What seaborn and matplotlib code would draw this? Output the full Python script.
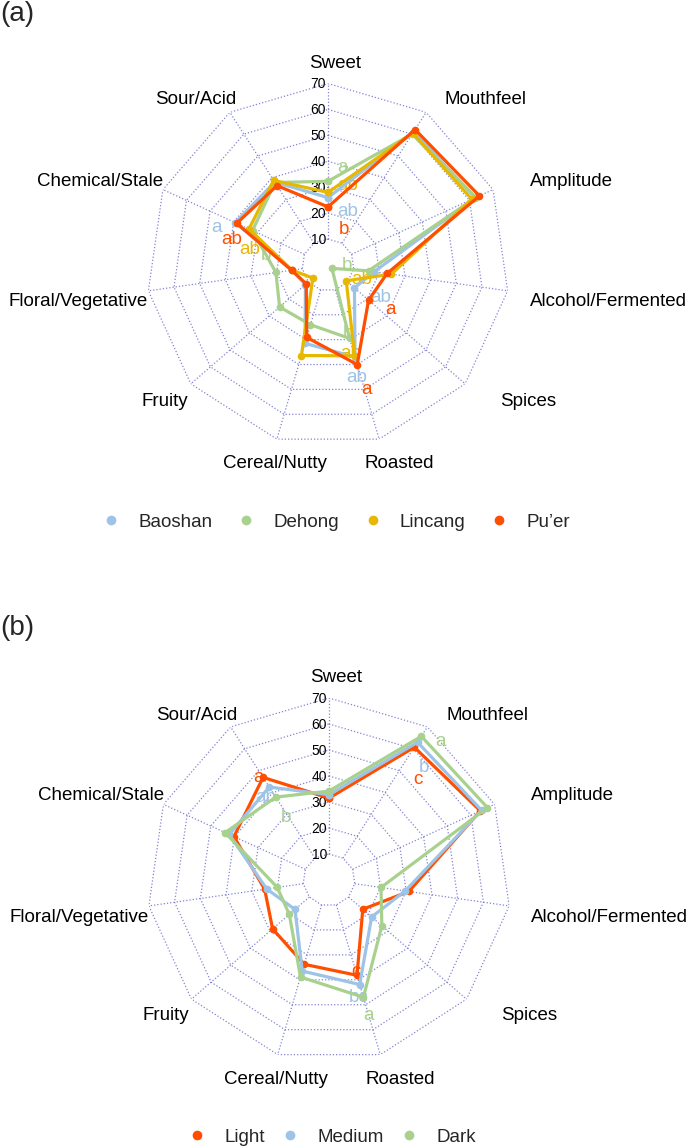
import numpy as np
import pandas as pd
import matplotlib
matplotlib.use("Agg")
import matplotlib.pyplot as plt
import seaborn as sns
from matplotlib.lines import Line2D

# ---------------- data ----------------
categories = ["Sweet", "Mouthfeel", "Amplitude", "Alcohol/Fermented", "Spices",
              "Roasted", "Cereal/Nutty", "Fruity", "Floral/Vegetative",
              "Chemical/Stale", "Sour/Acid"]
ticks = [10, 20, 30, 40, 50, 60, 70]

# panel (a): regions
region_names = ["Baoshan", "Dehong", "Lincang", "Pu\u2019er"]
baoshan = [26.0, 61.0, 62.5, 18.0, 13.5, 37.0, 31.5, 11.5, 14.0, 39.3, 38.0]
dehong = [32.3, 60.0, 62.7, 15.8, 2.0, 29.5, 24.0, 24.7, 20.3, 32.0, 37.8]
lincang = [28.0, 60.5, 61.0, 24.7, 9.3, 36.5, 36.4, 7.7, 14.0, 33.5, 38.8]
puer = [22.4, 62.1, 64.2, 23.0, 20.7, 40.0, 29.1, 11.1, 14.2, 38.7, 36.4]

# panel (b): roast levels
roast_names = ["Light", "Medium", "Dark"]
light = [31.5, 60.7, 64.0, 31.0, 17.2, 38.2, 33.8, 28.7, 25.0, 40.2, 46.9]
medium = [32.8, 63.0, 64.5, 29.6, 21.7, 41.9, 36.5, 17.3, 24.2, 42.2, 42.5]
dark = [34.2, 65.7, 67.0, 20.2, 26.9, 47.0, 38.9, 20.2, 20.1, 43.9, 37.9]

# significance letters: (category, series, letter)
letters_a = [("Sweet", "Dehong", "a"), ("Sweet", "Lincang", "ab"),
             ("Sweet", "Baoshan", "ab"), ("Sweet", "Pu\u2019er", "b"),
             ("Chemical/Stale", "Baoshan", "a"), ("Chemical/Stale", "Pu\u2019er", "ab"),
             ("Chemical/Stale", "Lincang", "ab"), ("Chemical/Stale", "Dehong", "b"),
             ("Spices", "Dehong", "b"), ("Spices", "Lincang", "ab"),
             ("Spices", "Baoshan", "ab"), ("Spices", "Pu\u2019er", "a"),
             ("Roasted", "Dehong", "b"), ("Roasted", "Lincang", "ab"),
             ("Roasted", "Baoshan", "ab"), ("Roasted", "Pu\u2019er", "a")]
letters_b = [("Mouthfeel", "Dark", "a"), ("Mouthfeel", "Medium", "b"),
             ("Mouthfeel", "Light", "c"),
             ("Sour/Acid", "Light", "a"), ("Sour/Acid", "Medium", "ab"),
             ("Sour/Acid", "Dark", "b"),
             ("Roasted", "Light", "c"), ("Roasted", "Medium", "bc"),
             ("Roasted", "Dark", "a")]

# ---------------- styles / layout ----------------
pal_a = {"Baoshan": "#9DC3E6", "Dehong": "#A9D18E", "Lincang": "#E8B800",
         "Pu\u2019er": "#FF4E00"}
pal_b = {"Light": "#FF4E00", "Medium": "#9DC3E6", "Dark": "#A9D18E"}
grid_color = "#6E6ECC"

# label offsets in pixels from the chart centre (x right, y down)
label_offsets = {"Sweet": (7, -202), "Mouthfeel": (158, -165), "Amplitude": (243, -84),
                 "Alcohol/Fermented": (280, 37), "Spices": (200, 136),
                 "Roasted": (71, 199), "Cereal/Nutty": (-53, 199),
                 "Fruity": (-163, 136), "Floral/Vegetative": (-250, 37),
                 "Chemical/Stale": (-228, -84), "Sour/Acid": (-132, -165)}
letter_offsets_a = {("Sweet", "Dehong"): (15, -97), ("Sweet", "Lincang"): (20, -80),
                    ("Sweet", "Baoshan"): (20, -54), ("Sweet", "Pu\u2019er"): (16, -35),
                    ("Chemical/Stale", "Baoshan"): (-111, -38),
                    ("Chemical/Stale", "Pu\u2019er"): (-96, -26),
                    ("Chemical/Stale", "Lincang"): (-78, -15),
                    ("Chemical/Stale", "Dehong"): (-62, -9),
                    ("Spices", "Dehong"): (19, 0), ("Spices", "Lincang"): (34, 15),
                    ("Spices", "Baoshan"): (53, 33), ("Spices", "Pu\u2019er"): (62, 44),
                    ("Roasted", "Dehong"): (20, 69), ("Roasted", "Lincang"): (23, 89),
                    ("Roasted", "Baoshan"): (29, 112), ("Roasted", "Pu\u2019er"): (38, 125)}
letter_offsets_b = {("Mouthfeel", "Dark"): (111, -138), ("Mouthfeel", "Medium"): (95, -112),
                    ("Mouthfeel", "Light"): (89, -101),
                    ("Sour/Acid", "Light"): (-71, -102), ("Sour/Acid", "Medium"): (-63, -83),
                    ("Sour/Acid", "Dark"): (-43, -62),
                    ("Roasted", "Light"): (27, 91), ("Roasted", "Medium"): (30, 117),
                    ("Roasted", "Dark"): (39, 135)}

W, H = 686, 1148
sns.set_theme(style="white")
plt.rcParams["font.family"] = ["Liberation Sans", "DejaVu Sans"]

fig = plt.figure(figsize=(W / 100, H / 100), dpi=100)


def make_df(names, series):
    n = len(categories)
    theta = np.linspace(0, 2 * np.pi, n, endpoint=False)
    rows = []
    for name, vals in zip(names, series):
        for t, v in zip(theta, vals):
            rows.append({"theta": t, "value": v, "series": name})
        rows.append({"theta": 2 * np.pi, "value": vals[0], "series": name})
    return pd.DataFrame(rows)


def radar(cx, cy, rad, names, series, pal, letters, letter_offs):
    ax = fig.add_axes([(cx - rad) / W, 1 - (cy + rad) / H, 2 * rad / W, 2 * rad / H],
                      projection="polar")
    ax.set_theta_zero_location("N")
    ax.set_theta_direction(-1)
    ax.set_ylim(0, 70)
    ax.set_axis_off()
    n = len(categories)
    theta = np.linspace(0, 2 * np.pi, n, endpoint=False)
    tclosed = np.append(theta, 2 * np.pi)
    # polygon grid
    for v in ticks:
        ax.plot(tclosed, [v] * len(tclosed), color=grid_color, lw=0.9,
                ls=(0, (1, 1.6)), zorder=1, alpha=0.85)
    for t in theta:
        ax.plot([t, t], [ticks[0], ticks[-1]], color=grid_color, lw=0.9,
                ls=(0, (1, 1.6)), zorder=1, alpha=0.85)
    # tick labels
    for v in ticks:
        ax.annotate(str(v), xy=(0, v), xytext=(-2, -1), textcoords="offset pixels",
                    ha="right", va="center", fontsize=10, color="black", zorder=1.2)
    # category labels
    for c in categories:
        dx, dy = label_offsets[c]
        ax.annotate(c, xy=(0, 0), xytext=(dx, -dy), textcoords="offset pixels",
                    ha="center", va="center", fontsize=13.5, color="black",
                    annotation_clip=False)
    # letters
    for cat, ser, lab in letters:
        dx, dy = letter_offs[(cat, ser)]
        ax.annotate(lab, xy=(0, 0), xytext=(dx, -dy), textcoords="offset pixels",
                    ha="center", va="center", fontsize=13.5, color=pal[ser],
                    zorder=1.5, annotation_clip=False)
    df = make_df(names, series)
    sns.lineplot(data=df, x="theta", y="value", hue="series", hue_order=names,
                 palette=pal, sort=False, estimator=None, marker="o",
                 markersize=5.5, markeredgewidth=0, linewidth=2.3, legend=False,
                 ax=ax, zorder=2)
    ax.set_axis_off()
    return ax


radar(328, 265, 181.5, region_names, [baoshan, dehong, lincang, puer], pal_a,
      letters_a, letter_offsets_a)
radar(329, 880, 182, roast_names, [light, medium, dark], pal_b,
      letters_b, letter_offsets_b)

fig.text(0.0, 1 - 1 / H, "(a)", ha="left", va="top", fontsize=20)
fig.text(0.0, 1 - 615 / H, "(b)", ha="left", va="top", fontsize=20)


def handles(names, pal):
    return [Line2D([], [], marker="o", ls="", markersize=7, markeredgewidth=0,
                   color=pal[n]) for n in names]


fig.legend(handles(region_names, pal_a), region_names, loc="center",
           bbox_to_anchor=(336 / W, 1 - 522 / H), ncol=4, frameon=False,
           handlelength=1.0, handletextpad=0.95, columnspacing=1.3, fontsize=13.5)
fig.legend(handles(roast_names, pal_b), roast_names, loc="center",
           bbox_to_anchor=(332 / W, 1 - 1137 / H), ncol=3, frameon=False,
           handlelength=1.0, handletextpad=0.95, columnspacing=0.85, fontsize=13.5,
           borderpad=0.1)

fig.savefig("out.png", dpi=100, facecolor="white")
